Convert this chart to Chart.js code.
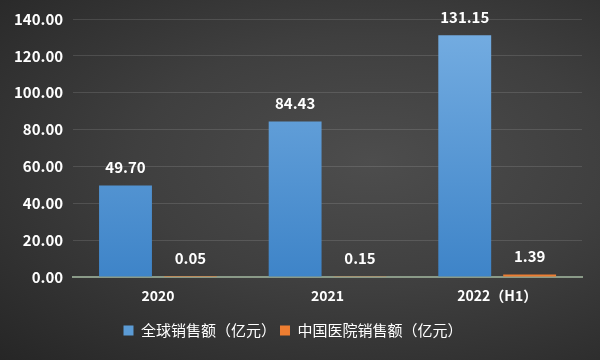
<!DOCTYPE html>
<html>
<head>
<meta charset="utf-8">
<script src="https://cdn.jsdelivr.net/npm/chart.js@4"></script>
<style>
  html, body { margin: 0; padding: 0; }
  body {
    width: 600px; height: 360px; overflow: hidden;
    background: radial-gradient(ellipse at 62% 45%, #4d4d4d 0%, #3f3f3f 45%, #262626 100%);
  }
  #wrap { width: 600px; height: 360px; position: relative; }
</style>
</head>
<body>
<div id="wrap"><canvas id="chart" width="600" height="360"></canvas></div>
<script>
const years = ['2020', '2021', '2022\uFF08H1\uFF09'];
const globalSales = [49.70, 84.43, 131.15];
const chinaSales = [0.05, 0.15, 1.39];
const seriesNames = ['全球销售额（亿元）', '中国医院销售额（亿元）'];

const FONT = '"Noto Sans CJK SC", "Noto Sans", sans-serif';

const blueFill = (ctx) => {
  const area = ctx.chart.chartArea;
  if (!area) return '#5b9bd5';
  const g = ctx.chart.ctx.createLinearGradient(0, area.top, 0, area.bottom);
  g.addColorStop(0, '#76aee2');
  g.addColorStop(1, '#3e84c8');
  return g;
};

const valueLabels = {
  id: 'valueLabels',
  afterDatasetsDraw(chart) {
    const c = chart.ctx;
    c.save();
    c.fillStyle = '#ffffff';
    c.font = 'bold 15px ' + FONT;
    c.textAlign = 'center';
    c.textBaseline = 'bottom';
    chart.data.datasets.forEach((ds, i) => {
      chart.getDatasetMeta(i).data.forEach((bar, j) => {
        c.fillText(ds.data[j].toFixed(2), bar.x, bar.y - 11);
      });
    });
    c.restore();
  }
};

new Chart(document.querySelector('#chart'), {
  type: 'bar',
  data: {
    labels: years,
    datasets: [
      { label: seriesNames[0], data: globalSales, backgroundColor: blueFill,
        categoryPercentage: 0.765, barPercentage: 0.815 },
      { label: seriesNames[1], data: chinaSales, backgroundColor: '#ed7d31',
        categoryPercentage: 0.765, barPercentage: 0.815 }
    ]
  },
  options: {
    responsive: false,
    animation: false,
    devicePixelRatio: 1,
    layout: { padding: { left: 4, right: 18, top: 10, bottom: 12 } },
    plugins: {
      tooltip: { enabled: false },
      legend: {
        position: 'bottom',
        title: { display: true, text: ' ', padding: 0, font: { size: 11 } },
        labels: {
          color: '#ffffff',
          font: { family: FONT, size: 15 },
          boxWidth: 10, boxHeight: 10,
          padding: 4,
          generateLabels(chart) {
            return chart.data.datasets.map((ds, i) => ({
              text: ds.label,
              fillStyle: i === 0 ? '#5b9bd5' : '#ed7d31',
              strokeStyle: 'transparent',
              lineWidth: 0,
              fontColor: '#ffffff',
              datasetIndex: i
            }));
          }
        }
      }
    },
    scales: {
      x: {
        grid: { display: false },
        border: { color: '#8a9a88', width: 2 },
        ticks: { color: '#ffffff', font: { family: FONT, size: 14, weight: 'bold' }, padding: 2 }
      },
      y: {
        min: 0, max: 140,
        grid: { color: 'rgba(255,255,255,0.12)', drawTicks: false },
        border: { display: false },
        ticks: {
          stepSize: 20,
          color: '#ffffff',
          padding: 10,
          font: { family: FONT, size: 15, weight: 'bold' },
          callback: (v) => v.toFixed(2)
        }
      }
    }
  },
  plugins: [valueLabels]
});
</script>
</body>
</html>
